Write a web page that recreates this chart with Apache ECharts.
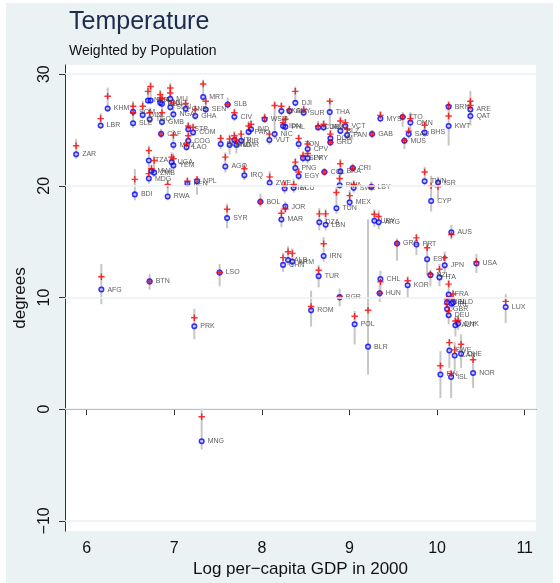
<!DOCTYPE html>
<html><head><meta charset="utf-8">
<script src="https://cdn.jsdelivr.net/npm/echarts@6/dist/echarts.min.js"></script>
<style>
html,body{margin:0;padding:0;background:#fff;}
#bg{position:absolute;left:6px;top:3px;width:547px;height:580px;background:#EAF2F3;}
#chart{position:absolute;left:0;top:0;width:560px;height:583px;}
</style></head>
<body><div id="bg"></div><div id="chart"></div>
<script>
// Country codes
const codes = ["ZAR","LBR","KHM","SLE","SOM","GIN","TGO","NER","BFA","TCD","BEN","MLI","SDN","GMB","NGA","GNB","GHA","MRT","SEN","CAF","MOZ","STP","COM","COG","LAO","TZA","UGA","YEM","MWI","ZMB","MDG","BDI","RWA","KEN","NPL","BGD","SLB","CIV","DJI","WSM","LKA","GUY","SUR","THA","IND","PAK","HTI","KIR","NIC","VUT","HND","MMR","IDN","PHL","CUB","JAM","BLZ","VCT","PAN","GAB","DOM","GRD","TON","CPV","SLV","PRY","PNG","EGY","COL","BRA","CRI","BWA","SWZ","LBY","ZWE","GTM","ECU","IRQ","AGO","BOL","JOR","MEX","TUN","SYR","MAR","DZA","LBN","IRN","CHN","ALB","ARM","TUR","ROM","BGR","POL","BLR","URY","ARG","CHL","HUN","AUS","GRC","PRT","ESP","JPN","USA","KOR","NZL","ITA","FRA","NLD","BEL","IRL","GBR","DEU","DNK","AUT","LUX","SWE","CAN","CHE","FIN","ISL","NOR","MYS","TTO","OMN","SAU","BHS","MUS","BRN","KWT","ARE","QAT","TWN","ISR","CYP","AFG","BTN","LSO","PRK","MNG"];
// Log per-capita GDP in 2000
const logGdp = [5.88,6.16,6.24,6.53,6.53,6.64,6.72,6.70,6.73,6.84,6.86,6.955,6.955,6.86,6.99,7.13,7.24,7.33,7.36,6.85,6.99,7.16,7.215,7.16,7.14,6.71,6.97,6.99,6.74,6.77,6.71,6.55,6.925,7.15,7.26,7.53,7.61,7.686,8.382,8.032,8.223,8.314,8.477,8.775,7.877,7.849,7.686,7.763,8.146,8.086,7.632,7.709,8.242,8.268,8.642,8.705,8.896,8.953,8.973,9.258,8.782,8.782,8.42,8.523,8.47,8.523,8.382,8.42,8.714,8.896,9.037,8.888,9.048,9.25,8.089,8.26,8.363,7.8,7.583,7.983,8.268,9.002,8.851,7.603,8.223,8.656,8.728,8.705,8.242,8.299,8.348,8.648,8.562,8.888,9.059,9.212,9.284,9.333,9.353,9.345,10.163,9.543,9.764,9.886,10.087,10.449,9.664,9.924,10.027,10.132,10.183,10.114,10.165,10.114,10.132,10.24,10.209,10.783,10.14,10.201,10.274,10.038,10.16,10.411,9.353,9.607,9.695,9.676,9.858,9.627,10.132,10.132,10.38,10.38,9.858,10.011,9.932,6.168,6.719,7.518,7.229,7.313];
// Population-weighted temperature (blue circles)
const tempPop = [22.83,25.40,26.93,25.60,26.64,26.34,25.96,27.64,27.64,27.43,27.34,27.79,27.04,25.72,26.40,26.90,26.25,27.96,26.84,24.65,23.65,25.07,24.78,24.04,23.45,22.27,22.12,21.82,21.33,21.18,20.65,19.23,19.05,20.20,20.41,23.74,27.28,26.19,27.43,25.96,26.69,26.69,26.55,26.60,25.07,24.83,24.10,24.04,24.63,24.10,23.65,23.65,25.36,25.28,25.22,25.22,24.92,25.36,24.54,24.63,24.25,23.89,23.74,23.30,22.48,22.48,21.59,20.88,21.24,21.29,21.59,20.05,19.82,19.91,20.27,19.76,19.82,20.94,21.73,18.58,18.14,18.52,17.99,17.11,16.99,16.73,16.51,13.72,12.92,13.36,13.21,11.91,8.85,10.03,7.61,5.60,16.87,16.73,11.65,10.38,15.84,14.83,14.74,13.42,12.88,13.04,11.09,12.00,11.80,10.27,9.56,9.56,9.45,8.96,8.41,7.66,7.52,9.14,5.25,4.81,4.96,3.10,2.88,3.24,26.02,26.16,25.66,24.63,24.78,24.04,27.08,25.36,26.84,26.25,20.41,20.29,18.64,10.71,11.44,12.24,7.43,-2.87];
// Alternative (area-based) temperature (red crosses)
const tempArea = [23.59,26.02,28.02,26.55,27.13,27.13,26.55,28.46,28.90,28.17,27.79,28.76,28.32,26.55,27.43,27.37,26.84,29.12,27.58,24.65,24.54,25.36,25.22,24.48,23.74,23.15,22.57,22.42,21.53,22.27,21.09,20.58,20.12,20.41,20.58,24.25,27.28,26.55,28.46,26.10,27.13,26.84,26.84,27.58,25.51,25.36,24.48,24.63,27.20,24.63,24.19,24.10,25.66,25.96,25.36,25.51,25.81,25.66,25.07,24.63,24.63,23.89,24.25,23.74,22.71,22.90,22.12,21.24,21.24,21.97,21.59,20.65,20.12,19.91,20.80,20.05,20.12,21.53,22.57,18.58,17.93,19.12,19.41,17.90,17.55,17.49,17.49,14.81,13.57,14.10,13.95,12.44,9.20,10.03,8.32,8.85,17.46,17.26,11.40,10.38,15.63,14.83,15.34,14.45,13.57,13.19,11.50,12.09,12.53,11.20,10.32,9.88,9.90,9.43,8.80,7.96,7.90,9.65,5.96,5.31,5.81,3.89,3.19,4.42,26.31,26.16,26.02,24.90,25.42,24.04,27.19,26.25,27.58,27.19,21.24,19.91,20.00,11.86,11.44,12.24,8.19,-0.68];
// Range (gray bars) low / high
const rangeLo = [22.4,25.1,26.6,25.2,26.3,26.0,25.6,27.3,27.3,27.1,27.0,27.5,26.7,25.4,26.0,26.5,25.9,27.6,26.5,24.3,23.2,24.8,24.5,23.7,23.1,21.6,21.8,21.4,21.0,20.8,20.2,18.7,18.7,19.9,19.2,23.3,26.9,25.8,27.1,25.6,26.3,26.3,26.2,25.4,24.7,24.5,23.8,23.6,24.2,23.7,22.8,22.9,25.0,24.9,24.9,24.9,24.6,25.0,24.2,24.3,23.9,23.6,23.3,22.9,22.1,22.0,21.2,20.5,20.9,20.9,21.2,19.7,19.4,19.5,19.9,19.3,19.4,20.5,21.2,18.1,17.6,18.1,17.5,16.2,16.3,16.0,16.0,13.2,12.3,12.9,12.7,10.9,7.4,9.2,5.8,3.1,16.3,16.1,10.6,9.6,15.2,13.3,13.8,12.0,12.3,12.2,10.0,11.0,11.0,9.6,8.9,9.0,9.0,8.2,7.6,7.1,6.5,7.7,3.7,3.4,3.7,1.0,1.0,1.9,25.7,25.3,24.9,24.2,24.4,23.3,26.7,23.6,26.5,25.4,20.0,18.8,17.7,9.4,10.7,11.0,6.25,-3.6];
const rangeHi = [24.2,26.5,28.8,26.9,27.6,27.6,27.0,28.9,29.3,28.6,28.2,29.2,28.7,27.0,27.8,27.8,27.2,29.5,28.0,25.1,25.0,25.7,25.6,24.9,24.1,23.6,23.0,22.9,21.9,22.7,21.6,21.5,20.5,20.8,20.8,24.6,27.9,26.9,28.9,26.5,27.5,27.2,27.2,27.7,25.9,25.8,24.9,25.0,27.6,25.0,24.6,24.5,26.0,26.3,25.8,25.9,26.2,26.0,25.4,25.0,25.0,24.2,24.6,24.1,23.1,23.3,22.5,21.6,21.6,22.4,22.0,21.0,20.5,20.4,21.3,20.5,20.6,22.0,23.0,19.3,18.6,19.6,19.9,18.4,18.0,18.0,17.9,15.4,14.0,14.6,14.4,12.9,10.6,10.8,8.8,17.0,17.9,17.8,12.4,11.1,16.5,15.3,15.7,14.9,14.1,13.9,11.9,12.5,13.0,11.6,10.7,10.3,10.3,9.8,9.2,8.4,8.3,10.3,6.3,6.0,6.7,5.2,3.4,4.9,26.7,26.6,26.6,25.3,25.8,24.4,27.6,27.4,28.5,27.6,21.7,20.8,20.9,13.0,12.1,13.0,9.0,0.1];
const xTicks = [6,7,8,9,10,11];
const yTicks = [-10,0,10,20,30];

const FONT = "'Liberation Sans', Arial, sans-serif";
const rangeData = logGdp.map((x,i)=>[x, rangeLo[i], rangeHi[i]]);
const blueData = logGdp.map((x,i)=>[x, tempPop[i], codes[i]]);
const redData = logGdp.map((x,i)=>[x, tempArea[i]]);

const chart = echarts.init(document.getElementById('chart'), null, {renderer:'canvas'});
chart.setOption({
  animation:false,
  backgroundColor:'transparent',
  textStyle:{fontFamily:FONT},
  graphic:[
    {type:'text', left:69, top:10, style:{text:'Temperature', font:'25px '+FONT, fill:'#1e2b4c'}},
    {type:'text', left:69, top:44, style:{text:'Weighted by Population', font:'14px '+FONT, fill:'#111'}}
  ],
  grid:{left:65, right:24, top:65, bottom:46, show:true, backgroundColor:'#fff', borderWidth:0},
  xAxis:{type:'value', min:5.753, max:11.129,
    axisLine:{show:true, lineStyle:{color:'#333', width:1}},
    axisTick:{show:true, length:6, customValues:xTicks, lineStyle:{color:'#333'}},
    axisLabel:{customValues:xTicks, fontSize:16, color:'#111', margin:9, fontFamily:FONT},
    splitLine:{show:false},
    name:'Log per\u2212capita GDP in 2000', nameLocation:'middle', nameGap:28,
    nameTextStyle:{fontSize:17, color:'#111', fontFamily:FONT}
  },
  yAxis:{type:'value', min:-10.92, max:30.82,
    axisLine:{show:true, lineStyle:{color:'#333', width:1}},
    axisTick:{show:true, length:6, customValues:yTicks, lineStyle:{color:'#333'}},
    axisLabel:{customValues:yTicks, fontSize:16, color:'#111', rotate:90, margin:12, fontFamily:FONT,
      formatter:(v)=>String(v).replace('-', '\u2212')},
    splitLine:{show:false},
    name:'degrees', nameLocation:'middle', nameRotate:90, nameGap:36,
    nameTextStyle:{fontSize:17, color:'#111', fontFamily:FONT}
  },
  series:[
    {type:'line', data:[], z:1, silent:true,
      markLine:{silent:true, symbol:'none', label:{show:false},
        lineStyle:{color:'#EAF2F3', width:1.5, type:'solid'},
        data: yTicks.map(v=>({yAxis:v}))}},
    {type:'custom', z:2, silent:true, data:rangeData,
      renderItem:(params, api)=>{
        const p1 = api.coord([api.value(0), api.value(1)]);
        const p2 = api.coord([api.value(0), api.value(2)]);
        return {type:'line', shape:{x1:p1[0], y1:p1[1], x2:p2[0], y2:p2[1]},
          style:{stroke:'#c6c6c6', lineWidth:2}};
      }},
    {type:'scatter', z:3, silent:true, data:blueData, symbol:'circle', symbolSize:4.5,
      itemStyle:{color:'rgba(255,255,255,0)', borderColor:'#0000ff', borderWidth:1.6},
      label:{show:true, position:'right', distance:3, fontSize:7, color:'#333', fontFamily:FONT,
        formatter:(p)=>p.data[2]}},
    {type:'scatter', z:4, silent:true, data:redData,
      symbol:'path://M0,3.9 L10,3.9 L10,6.1 L0,6.1 Z M3.9,0 L6.1,0 L6.1,10 L3.9,10 Z',
      symbolSize:6.5, itemStyle:{color:'#ff0000'}}
  ]
});
</script></body></html>
